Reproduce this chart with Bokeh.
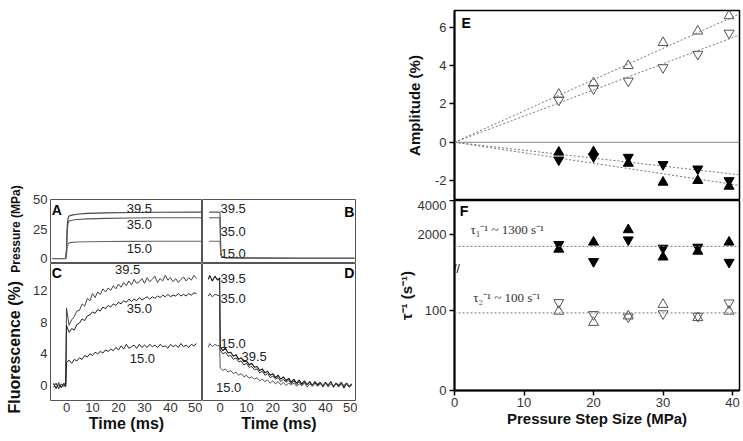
import math
from bokeh.plotting import figure
from bokeh.layouts import row, column
from bokeh.models import Spacer, Label, Span, Range1d, FixedTicker, LinearAxis
from bokeh.embed import file_html
from bokeh.resources import INLINE

FONT = "Liberation Sans"

# ---------------- data: left panels (time courses) ----------------
step_labels = ["39.5", "35.0", "15.0"]

# Panel A: pressure jump (MPa)
t_A = [-5.5, -0.3, 0.0, 0.3, 0.6, 1.0, 2.0, 4.0, 8.0, 15.0, 25.0, 35.0, 52.5]
A_395 = [0.0, 0.0, 8.0, 28.0, 34.0, 36.0, 36.8, 37.5, 38.2, 38.7, 39.0, 39.2, 39.3]
A_350 = [0.0, 0.0, 7.0, 24.0, 30.0, 31.8, 32.4, 33.0, 33.6, 34.0, 34.3, 34.5, 34.6]
A_150 = [0.0, 0.0, 3.0, 10.0, 12.5, 13.3, 13.7, 14.0, 14.2, 14.4, 14.5, 14.6, 14.6]

# Panel B: pressure drop (MPa)
t_B = [-4.2, -0.1, 0.0, 0.2, 0.6, 2.0, 10.0, 30.0, 51.0]
B_395 = [39.3, 39.3, 30.0, 6.0, 1.5, 0.8, 0.5, 0.3, 0.2]
B_350 = [34.6, 34.6, 26.0, 5.0, 1.4, 0.8, 0.5, 0.3, 0.2]
B_150 = [14.6, 14.6, 11.0, 3.0, 1.2, 0.7, 0.5, 0.3, 0.2]

# Panels C, D: fluorescence (%)
t_post = list(range(0, 51))
t_C = [-5, -4, -3, -2, -1, -0.3] + t_post
t_D = [-4.5, -4, -3, -2, -1, -0.2] + t_post

C_395 = [0.3, -0.4, 0.4, -0.3, 0.2, -0.2,
         9.8, 7.6, 8.3, 8.7, 9.4, 9.5, 10.3, 10.0, 11.0, 10.7, 11.6, 11.1, 11.8, 11.5, 12.2, 11.8,
         12.3, 12.0, 12.6, 12.2, 12.8, 12.4, 13.0, 12.6, 13.2, 12.7, 13.4, 12.9, 13.1, 13.5, 12.9,
         13.6, 13.1, 13.4, 13.8, 13.0, 13.5, 13.2, 13.9, 13.3, 13.6, 13.1, 13.5, 13.0, 13.4, 13.7,
         13.2, 13.6, 13.3, 13.9, 13.5]
C_350 = [0.2, -0.3, 0.1, -0.2, 0.3, 0.0,
         7.6, 6.7, 7.2, 7.0, 7.7, 7.9, 8.4, 8.2, 8.8, 8.9, 9.3, 9.1, 9.6, 9.4, 9.9, 9.7,
         10.1, 9.9, 10.3, 10.1, 10.5, 10.3, 10.7, 10.5, 10.9, 10.6, 10.9, 10.7, 11.1, 10.8, 11.0,
         11.2, 10.9, 11.2, 11.0, 11.3, 11.1, 11.4, 11.2, 11.5, 11.2, 11.4, 11.3, 11.6, 11.3, 11.5,
         11.3, 11.6, 11.4, 11.7, 11.6]
C_150 = [-0.2, 0.3, -0.4, 0.2, -0.1, 0.1,
         2.9, 3.2, 2.8, 3.3, 3.1, 3.5, 3.3, 3.8, 3.6, 4.0, 3.8, 4.2, 4.0, 4.3, 4.1, 4.5,
         4.3, 4.6, 4.4, 4.8, 4.5, 5.0, 4.6, 5.2, 4.7, 4.9, 5.1, 4.7, 5.2, 4.8, 5.1,
         4.8, 5.2, 4.9, 5.1, 4.8, 5.2, 4.9, 5.0, 4.7, 5.2, 4.9, 5.1, 4.8, 5.3, 4.9,
         5.1, 4.8, 5.2, 5.0, 5.3]

D_395 = [13.4, 13.9, 13.2, 13.8, 13.3, 13.6,
         4.9, 4.4, 4.7, 4.1, 4.2, 3.7, 3.9, 3.3, 3.5, 3.0, 3.1, 2.6, 2.8, 2.3, 2.4, 1.9,
         2.1, 1.6, 1.8, 1.3, 1.5, 1.0, 1.3, 0.8, 1.1, 0.6, 0.9, 0.4, 0.8, 0.3, 0.7,
         0.2, 0.6, 0.1, 0.5, 0.0, 0.5, 0.1, 0.4, -0.1, 0.4, 0.0, 0.5, -0.2, 0.3,
         0.0, 0.4, -0.3, 0.3, -0.1, 0.2]
D_350 = [11.3, 11.6, 11.2, 11.5, 11.4, 11.3,
         4.5, 4.0, 4.2, 3.7, 3.8, 3.3, 3.5, 3.0, 3.1, 2.6, 2.8, 2.3, 2.4, 2.0, 2.1, 1.6,
         1.8, 1.3, 1.5, 1.0, 1.2, 0.8, 1.0, 0.5, 0.8, 0.4, 0.7, 0.2, 0.6, 0.1, 0.5,
         0.0, 0.4, 0.1, 0.4, -0.1, 0.3, 0.0, 0.4, -0.2, 0.3, 0.1, 0.4, -0.1, 0.3,
         -0.2, 0.2, 0.0, 0.3, -0.2, 0.1]
D_150 = [4.8, 5.3, 4.9, 5.2, 5.0, 5.1,
         2.2, 1.9, 2.1, 1.7, 1.9, 1.5, 1.7, 1.3, 1.5, 1.1, 1.3, 0.9, 1.1, 0.8, 1.0, 0.6,
         0.8, 0.5, 0.7, 0.3, 0.6, 0.2, 0.5, 0.1, 0.4, 0.0, 0.3, 0.1, 0.3, -0.1, 0.2,
         0.0, 0.3, -0.2, 0.2, 0.0, 0.3, -0.1, 0.2, 0.0, 0.3, -0.2, 0.2, 0.0, 0.2,
         -0.1, 0.3, 0.0, 0.2, -0.2, 0.1]

# ---------------- data: right panels ----------------
step_size = [15, 20, 25, 30, 35, 39.5]
amp_open_up = [2.5, 3.1, 4.0, 5.2, 5.8, 6.6]
amp_open_down = [2.2, 2.8, 3.2, 3.9, 4.6, 5.7]
amp_fill_up = [-0.52, -0.50, -1.10, -2.09, -2.00, -2.30]
amp_fill_down = [-0.92, -0.75, -0.78, -1.16, -1.39, -2.00]
fit_x = [0, 41]
fit_open_up = [0, 6.7]
fit_open_down = [0, 5.6]
fit_fill_down = [0, -1.7]
fit_fill_up = [0, -2.25]

tau1_up = [1130, 1547, 2275, 670, 1010, 1547]
tau1_down = [1420, 412, 1688, 1200, 1260, 370]
tau2_up = [99, 85, 93, 107.5, 91, 99]
tau2_down = [110, 95, 92, 96, 93, 109.6]
tau1_mean = 1300
tau2_mean = 97

E_ticks = [-2, 0, 2, 4, 6]
FT_ticks = [2000, 4000]
FB_ticks = [0, 100]
x_ticks_right = [0, 10, 20, 30, 40]
time_ticks = [0, 10, 20, 30, 40, 50]


# ---------------- helpers ----------------
def make_fig(fw, fh, xr, yr, bl, br, bt, bb, outline="#555555", ow=1):
    p = figure(frame_width=fw, frame_height=fh,
               x_range=Range1d(*xr), y_range=Range1d(*yr),
               x_axis_location=None, y_axis_location=None,
               output_backend="svg", toolbar_location=None,
               min_border_left=bl, min_border_right=br,
               min_border_top=bt, min_border_bottom=bb)
    p.xgrid.visible = False
    p.ygrid.visible = False
    p.outline_line_color = outline
    p.outline_line_width = ow
    p.background_fill_color = "white"
    p.border_fill_color = "white"
    return p


def style_axis(ax, label_size="15px", tick_out=0, line_color=None, line_width=1,
               label_standoff=3, tick_standoff=3):
    ax.major_label_text_font = FONT
    ax.major_label_text_font_size = "13px"
    ax.major_label_text_color = "#333333"
    ax.axis_label_text_font = FONT
    ax.axis_label_text_font_style = "bold"
    ax.axis_label_text_font_size = label_size
    ax.axis_label_text_color = "#111111"
    ax.major_tick_out = tick_out
    ax.major_tick_in = 0
    ax.minor_tick_out = 0
    ax.minor_tick_in = 0
    ax.major_tick_line_color = "black"
    ax.major_tick_line_width = 1.5
    ax.axis_line_color = line_color
    ax.axis_line_width = line_width
    ax.major_label_standoff = tick_standoff
    ax.axis_label_standoff = label_standoff


def note(p, x, y, text, align="center", size="13px", color="#222222", bold=False,
         baseline="middle", font=FONT, **kw):
    p.add_layout(Label(x=x, y=y, text=text, text_font=font, text_font_size=size,
                       text_color=color, text_align=align, text_baseline=baseline,
                       text_font_style="bold" if bold else "normal", **kw))


# ---------------- left: axis titles strip ----------------
pL = make_fig(30, 440, (0, 30), (440, 0), 0, 0, 0, 0, outline=None)
note(pL, 15, 228.5, "Pressure (MPa)", size="12px", bold=True, color="#111111", angle=math.pi / 2)
note(pL, 14, 346.7, "Fluorescence (%)", size="16px", bold=True, color="#111111", angle=math.pi / 2)

# ---------------- left panels ----------------
xr_left = (-6.15, 52.3)
xr_right = (-6.73, 51.4)
yr_press = (-4.2, 50.0)
yr_fluo = (-1.89, 15.4)

pA = make_fig(152, 64, xr_left, yr_press, 18, 0, 10, 0)
axA = LinearAxis(ticker=FixedTicker(ticks=[0, 25, 50]))
style_axis(axA)
pA.add_layout(axA, "left")
pA.line(t_A, A_395, line_color="#444444", line_width=1.2)
pA.line(t_A, A_350, line_color="#555555", line_width=1.1)
pA.line(t_A, A_150, line_color="#666666", line_width=1.1)
note(pA, 28, 42.75, step_labels[0])
note(pA, 28, 28.9, step_labels[1])
note(pA, 28, 8.6, step_labels[2])
note(pA, -5.65, 47.8, "A", align="left", baseline="top", size="14px", bold=True, color="black")

pB = make_fig(153, 64, xr_right, yr_press, 0, 2, 10, 0)
pB.line(t_B, B_395, line_color="#555555", line_width=1.1)
pB.line(t_B, B_350, line_color="#555555", line_width=1.1)
pB.line(t_B, B_150, line_color="#666666", line_width=1.1)
note(pB, 0.1, 42.4, step_labels[0], align="left")
note(pB, 0.1, 22.9, step_labels[1], align="left")
note(pB, 0.1, 4.2, step_labels[2], align="left")
note(pB, 50.95, 46.1, "B", align="right", baseline="top", size="14px", bold=True, color="black")

pC = make_fig(152, 137, xr_left, yr_fluo, 18, 0, 0, 40)
axCy = LinearAxis(ticker=FixedTicker(ticks=[0, 4, 8, 12]))
style_axis(axCy)
pC.add_layout(axCy, "left")
axCx = LinearAxis(ticker=FixedTicker(ticks=time_ticks), axis_label="Time (ms)")
style_axis(axCx, "16px", label_standoff=0, tick_standoff=2)
pC.add_layout(axCx, "below")
pC.line(t_C, C_395, line_color="#444444", line_width=1)
pC.line(t_C, C_350, line_color="#222222", line_width=1)
pC.line(t_C, C_150, line_color="#222222", line_width=1)
note(pC, 23.5, 14.6, step_labels[0])
note(pC, 28, 9.75, step_labels[1])
note(pC, 29.2, 3.4, step_labels[2])
note(pC, -5.65, 15.18, "C", align="left", baseline="top", size="14px", bold=True, color="black")

pD = make_fig(153, 137, xr_right, yr_fluo, 0, 2, 0, 40)
axDx = LinearAxis(ticker=FixedTicker(ticks=time_ticks), axis_label="Time (ms)")
style_axis(axDx, "16px", label_standoff=0, tick_standoff=2)
pD.add_layout(axDx, "below")
pD.line(t_D, D_395, line_color="#111111", line_width=1.1)
pD.line(t_D, D_350, line_color="#333333", line_width=1)
pD.line(t_D, D_150, line_color="#555555", line_width=1)
note(pD, 0.1, 13.55, step_labels[0], align="left")
note(pD, 0.1, 11.0, step_labels[1], align="left")
note(pD, 0.1, 5.26, step_labels[2], align="left")
note(pD, 12.9, 3.7, step_labels[0])
note(pD, 3.2, -0.2, step_labels[2])
note(pD, 50.95, 15.18, "D", align="right", baseline="top", size="14px", bold=True, color="black")

left = row(pL, column(Spacer(width=325, height=189), row(pA, pB), row(pC, pD)))

# ---------------- right panels ----------------
xr_R = (0, 41.0)
E_vis = (-3.04, 6.88)
FT_vis = (0.0, 4000.0)      # upper (broken) part of F, 68 px
FB_vis = (0.0, 152.5)       # lower part of F, 122 px
hFT, hFB = 68, 122


def upper_to_lower(v):
    # position of an upper-segment value in the lower segment's units
    return FB_vis[1] + (v - FT_vis[0]) * (FB_vis[1] / hFB) * hFT / (FT_vis[1] - FT_vis[0])


FB_top = upper_to_lower(FT_vis[1])
FT_range = (FT_vis[0] - hFB * (FT_vis[1] - FT_vis[0]) / hFT, FT_vis[1])

# E
pE = make_fig(285, 190, xr_R, E_vis, 97, 5, 10, 0, outline="black", ow=1.5)
axE = LinearAxis(ticker=FixedTicker(ticks=E_ticks),
                 major_label_overrides={v: str(v) for v in E_ticks},
                 axis_label="Amplitude (%)")
style_axis(axE, "15px", tick_out=5, line_color="black", line_width=2, label_standoff=9)
pE.add_layout(axE, "left")
pE.add_layout(Span(location=0, dimension="width", line_color="#888888", line_width=1))
for fy in (fit_open_up, fit_open_down, fit_fill_up, fit_fill_down):
    pE.line(fit_x, fy, line_color="#777777", line_width=1, line_dash="2 2")
open_kw = dict(size=10, fill_color=None, line_color="#555555", line_width=1)
fill_kw = dict(size=10, fill_color="black", line_color="black", line_width=1)
pE.scatter(step_size, amp_open_up, marker="triangle", **open_kw)
pE.scatter(step_size, amp_open_down, marker="inverted_triangle", **open_kw)
pE.scatter(step_size, amp_fill_up, marker="triangle", **fill_kw)
pE.scatter(step_size, amp_fill_down, marker="inverted_triangle", **fill_kw)
note(pE, 1.0, 6.67, "E", align="left", baseline="top", size="14px", bold=True, color="black")

# F (broken axis: upper segment for tau1, lower for tau2)
pF = make_fig(285, 190, xr_R, (FB_vis[0], FB_top), 97, 5, 0, 50, outline="black", ow=1.5)
pF.extra_y_ranges = {"ft": Range1d(*FT_range)}
f_ticks = list(FB_ticks) + [upper_to_lower(v) for v in FT_ticks[:-1]] + [FB_top]
f_over = {FB_ticks[0]: str(FB_ticks[0]), FB_ticks[1]: str(FB_ticks[1])}
for v, pos in zip(FT_ticks, f_ticks[2:]):
    f_over[pos] = str(v)
axF = LinearAxis(ticker=FixedTicker(ticks=f_ticks), major_label_overrides=f_over,
                 axis_label="τ⁻¹ (s⁻¹)")
style_axis(axF, "15px", tick_out=5, line_color="black", line_width=2, label_standoff=0)
pF.add_layout(axF, "left")
axFx = LinearAxis(ticker=FixedTicker(ticks=x_ticks_right), axis_label="Pressure Step Size (MPa)")
style_axis(axFx, "15px", tick_out=5, line_color="black", line_width=2, label_standoff=0,
           tick_standoff=2)
pF.add_layout(axFx, "below")

pF.add_layout(Span(location=tau1_mean, dimension="width", y_range_name="ft",
                   line_color="#777777", line_width=1, line_dash="2 2"))
pF.add_layout(Span(location=tau2_mean, dimension="width",
                   line_color="#777777", line_width=1, line_dash="2 2"))
pF.scatter(step_size, tau1_up, marker="triangle", y_range_name="ft", **fill_kw)
pF.scatter(step_size, tau1_down, marker="inverted_triangle", y_range_name="ft", **fill_kw)
pF.scatter(step_size, tau2_up, marker="triangle", **open_kw)
pF.scatter(step_size, tau2_down, marker="inverted_triangle", **open_kw)

note(pF, 0.75, 3882, "F", align="left", baseline="top", size="14px", bold=True, color="black",
     y_range_name="ft")
note(pF, 2.3, 2293, "τ₁⁻¹ ~ 1300 s⁻¹", align="left", size="13px", color="#333333",
     font="Liberation Serif", y_range_name="ft")
note(pF, 2.7, 116, "τ₂⁻¹ ~ 100 s⁻¹", align="left", size="13px", color="#333333",
     font="Liberation Serif")
note(pF, 0, 0, "//", size="12px", color="black", y_range_name="ft", x_offset=2)

right = column(pE, pF)

page = row(left, right)
open("out.html", "w").write(file_html(page, INLINE))
